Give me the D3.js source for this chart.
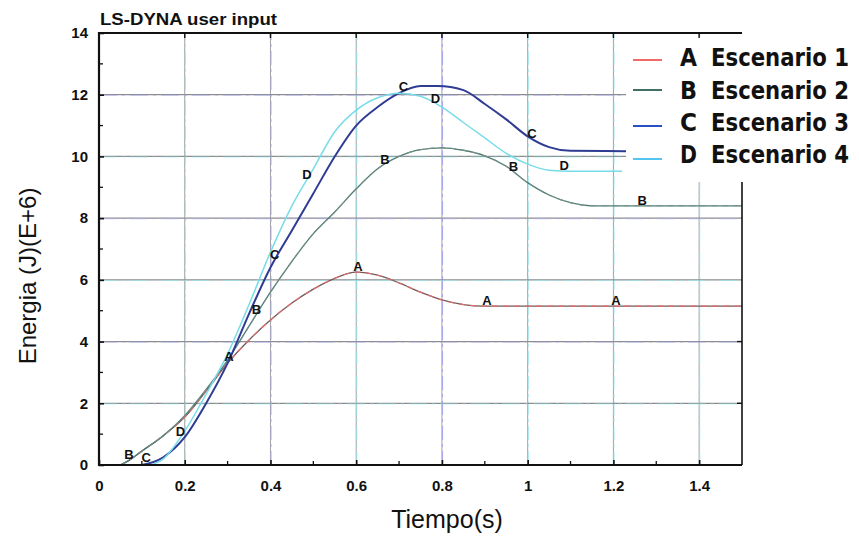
<!DOCTYPE html>
<html>
<head>
<meta charset="utf-8">
<script src="https://cdn.jsdelivr.net/npm/d3@7"></script>
<style>
  html, body { margin: 0; padding: 0; background: #fff; }
  svg { display: block; }
</style>
</head>
<body>
<svg id="chart" width="859" height="536"></svg>
<script>
// Energy vs time for four crash scenarios (LS-DYNA output)
const timeA = [0.05, 0.07, 0.1, 0.15, 0.2, 0.25, 0.3, 0.35, 0.4, 0.45, 0.5, 0.55, 0.6, 0.65, 0.7, 0.75, 0.8, 0.85, 0.9, 1.0, 1.2, 1.5];
const energyA = [0, 0.15, 0.45, 0.95, 1.55, 2.4, 3.3, 4.05, 4.7, 5.25, 5.7, 6.05, 6.25, 6.15, 5.9, 5.6, 5.35, 5.2, 5.15, 5.15, 5.15, 5.15];

const timeB = [0.05, 0.07, 0.1, 0.15, 0.2, 0.25, 0.3, 0.35, 0.4, 0.45, 0.5, 0.55, 0.6, 0.65, 0.7, 0.75, 0.8, 0.85, 0.9, 0.95, 1.0, 1.05, 1.1, 1.15, 1.3, 1.5];
const energyB = [0, 0.15, 0.45, 0.95, 1.6, 2.45, 3.4, 4.5, 5.6, 6.6, 7.5, 8.2, 8.95, 9.6, 10.0, 10.22, 10.28, 10.2, 10.02, 9.68, 9.15, 8.75, 8.5, 8.4, 8.4, 8.4];

const timeC = [0.1, 0.15, 0.2, 0.25, 0.3, 0.35, 0.4, 0.45, 0.5, 0.55, 0.6, 0.65, 0.7, 0.75, 0.79, 0.85, 0.9, 0.95, 1.0, 1.05, 1.1, 1.23];
const energyC = [0, 0.25, 0.9, 2.0, 3.3, 4.9, 6.4, 7.6, 8.8, 10.0, 11.0, 11.6, 12.05, 12.28, 12.28, 12.15, 11.7, 11.2, 10.65, 10.3, 10.18, 10.17];

const timeD = [0.12, 0.15, 0.2, 0.25, 0.3, 0.35, 0.4, 0.45, 0.5, 0.55, 0.6, 0.65, 0.7, 0.75, 0.8, 0.85, 0.9, 0.95, 1.0, 1.05, 1.1, 1.22];
const energyD = [0, 0.2, 1.1, 2.3, 3.6, 5.2, 6.9, 8.4, 9.6, 10.8, 11.5, 11.9, 12.05, 11.95, 11.6, 11.1, 10.6, 10.1, 9.75, 9.55, 9.52, 9.52];

// letter markers placed along each curve
const markTimesA = [0.303, 0.604, 0.905, 1.206];
const markTimesB = [0.07, 0.367, 0.667, 0.967, 1.267];
const markTimesC = [0.11, 0.41, 0.71, 1.01];
const markTimesD = [0.19, 0.485, 0.785, 1.085];

const seriesLetters = ["A", "B", "C", "D"];
const seriesNames = ["Escenario 1", "Escenario 2", "Escenario 3", "Escenario 4"];

const xTicks = [0, 0.2, 0.4, 0.6, 0.8, 1, 1.2, 1.4];
const yTicks = [0, 2, 4, 6, 8, 10, 12, 14];

const series = [
  { t: timeA, e: energyA, marks: markTimesA, color: "#6e5a5a", accent: "#e86a6a", width: 1.3 },
  { t: timeB, e: energyB, marks: markTimesB, color: "#4d7d74", accent: "#7a8f8a", width: 1.3 },
  { t: timeC, e: energyC, marks: markTimesC, color: "#2f3c94", accent: null, width: 2.0 },
  { t: timeD, e: energyD, marks: markTimesD, color: "#78dce8", accent: null, width: 1.5 }
];
const legendColors = ["#f06a6a", "#3f6f66", "#2850c0", "#52c6ee"];

const svg = d3.select("#chart");
const x = d3.scaleLinear().domain([0, 1.5]).range([99, 742]);
const y = d3.scaleLinear().domain([0, 14]).range([465, 33]);

// grid lines: grey base with coloured dash-dot overlay
const grid = svg.append("g");
const vGrid = xTicks.filter(d => d > 0);
const vTint = ["#8ee8f0", "#a8a8f4", "#8ee8f0", "#9a9af2", "#8ee8f0", "#8ee8f0", "#8ee8f0"];
grid.selectAll(".vg").data(vGrid).join("line")
  .attr("x1", d => x(d)).attr("x2", d => x(d))
  .attr("y1", y(0)).attr("y2", y(14))
  .attr("stroke", "#a0a0a0").attr("stroke-width", 1);
grid.selectAll(".vgt").data(vGrid).join("line")
  .attr("x1", d => x(d) + 0.6).attr("x2", d => x(d) + 0.6)
  .attr("y1", y(0)).attr("y2", y(14))
  .attr("stroke", (d, i) => vTint[i]).attr("stroke-width", 1.1)
  .attr("stroke-dasharray", "14,4,3,4").attr("opacity", 0.75);
const hGrid = yTicks.filter(d => d > 0 && d < 14);
const hTint = ["#8ee8f0", "#a8a8f4", "#8ee8f0", "#a8a8f4", "#8ee8f0", "#a8a8f4"];
grid.selectAll(".hg").data(hGrid).join("line")
  .attr("x1", x(0)).attr("x2", x(1.5))
  .attr("y1", d => y(d)).attr("y2", d => y(d))
  .attr("stroke", "#8c8c8c").attr("stroke-width", 1.2);
grid.selectAll(".hgt").data(hGrid).join("line")
  .attr("x1", x(0)).attr("x2", x(1.5))
  .attr("y1", d => y(d) + 0.6).attr("y2", d => y(d) + 0.6)
  .attr("stroke", (d, i) => hTint[i]).attr("stroke-width", 1)
  .attr("stroke-dasharray", "18,5,3,5").attr("opacity", 0.6);

// curves
const line = d3.line().x(d => x(d[0])).y(d => y(d[1])).curve(d3.curveMonotoneX);
const curves = svg.append("g");
series.forEach(s => {
  const pts = s.t.map((t, i) => [t, s.e[i]]);
  curves.append("path").attr("d", line(pts))
    .attr("fill", "none").attr("stroke", s.color).attr("stroke-width", s.width);
  if (s.accent) {
    curves.append("path").attr("d", line(pts))
      .attr("fill", "none").attr("stroke", s.accent).attr("stroke-width", 1.1)
      .attr("stroke-dasharray", "6,5");
  }
});

// value of a curve at time t (linear between samples, for label placement)
function valueAt(s, t) {
  const i = d3.bisectLeft(s.t, t);
  if (i <= 0) return s.e[0];
  if (i >= s.t.length) return s.e[s.t.length - 1];
  const t0 = s.t[i - 1], t1 = s.t[i];
  const k = (t - t0) / (t1 - t0);
  return s.e[i - 1] + k * (s.e[i] - s.e[i - 1]);
}

// white legend panel
svg.append("rect").attr("x", 626).attr("y", 36).attr("width", 233).attr("height", 146).attr("fill", "#fff");

// frame
const frame = svg.append("g").attr("stroke", "#111").attr("fill", "none");
frame.append("line").attr("x1", x(0)).attr("x2", x(0)).attr("y1", y(14) - 1).attr("y2", y(0) + 1).attr("stroke-width", 2.2);
frame.append("line").attr("x1", x(0)).attr("x2", x(1.5)).attr("y1", y(0)).attr("y2", y(0)).attr("stroke-width", 2.2);
frame.append("line").attr("x1", x(0)).attr("x2", x(1.5)).attr("y1", y(14)).attr("y2", y(14)).attr("stroke-width", 2);
frame.append("line").attr("x1", x(1.5)).attr("x2", x(1.5)).attr("y1", 182).attr("y2", y(0)).attr("stroke-width", 1.6);

// axes with inward ticks
const xAxis = d3.axisBottom(x).tickValues(xTicks).tickSize(-5).tickPadding(15)
  .tickFormat(d => d3.format("~g")(d));
const gx = svg.append("g").attr("transform", `translate(0,${y(0)})`).call(xAxis);
const yAxis = d3.axisLeft(y).tickValues(yTicks).tickSize(-5).tickPadding(11);
const gy = svg.append("g").attr("transform", `translate(${x(0)},0)`).call(yAxis);
[gx, gy].forEach(g => {
  g.select(".domain").remove();
  g.selectAll(".tick line").attr("stroke", "#111").attr("stroke-width", 1.6);
  g.selectAll("text").attr("font-family", "Liberation Sans, Arial, sans-serif")
    .attr("font-weight", "bold").attr("font-size", 15).attr("fill", "#111");
});
// minor ticks
const minorX = d3.range(0.1, 1.5, 0.2);
svg.append("g").selectAll("line").data(minorX).join("line")
  .attr("x1", d => x(d)).attr("x2", d => x(d)).attr("y1", y(0)).attr("y2", y(0) - 4)
  .attr("stroke", "#111").attr("stroke-width", 1.3);
const minorY = d3.range(1, 14, 2);
svg.append("g").selectAll("line").data(minorY).join("line")
  .attr("x1", x(0)).attr("x2", x(0) + 4).attr("y1", d => y(d)).attr("y2", d => y(d))
  .attr("stroke", "#111").attr("stroke-width", 1.3);
// right-side ticks
svg.append("g").selectAll("line").data(yTicks.filter(d => d < 6)).join("line")
  .attr("x1", x(1.5)).attr("x2", x(1.5) - 5).attr("y1", d => y(d)).attr("y2", d => y(d))
  .attr("stroke", "#111").attr("stroke-width", 1.4);
// top ticks
svg.append("g").selectAll("line").data(xTicks.filter(d => d > 0)).join("line")
  .attr("x1", d => x(d)).attr("x2", d => x(d)).attr("y1", y(14)).attr("y2", y(14) + 5)
  .attr("stroke", "#111").attr("stroke-width", 1.4);

// letter markers on curves
const labels = svg.append("g").attr("font-family", "Liberation Sans, Arial, sans-serif")
  .attr("font-weight", "bold").attr("font-size", 13).attr("fill", "#111").attr("text-anchor", "middle");
series.forEach((s, si) => {
  s.marks.forEach(t => {
    labels.append("text").attr("x", x(t)).attr("y", y(valueAt(s, t)) - 1).text(seriesLetters[si]);
  });
});

// legend
const legend = svg.append("g");
const rowBase = [66, 99, 131, 163];
const lineY = [60, 90, 126, 159];
const legendFont = "Liberation Sans Narrow, DejaVu Sans Condensed, Arial Narrow, sans-serif";
seriesLetters.forEach((L, i) => {
  legend.append("line").attr("x1", 633).attr("x2", 662)
    .attr("y1", lineY[i]).attr("y2", lineY[i])
    .attr("stroke", legendColors[i]).attr("stroke-width", 2);
  legend.append("text").attr("x", 680).attr("y", rowBase[i])
    .attr("font-family", legendFont).attr("font-weight", "bold")
    .attr("font-size", 25).attr("fill", "#111")
    .attr("textLength", 17).attr("lengthAdjust", "spacingAndGlyphs").text(L);
  legend.append("text").attr("x", 711).attr("y", rowBase[i])
    .attr("font-family", legendFont).attr("font-weight", "bold")
    .attr("font-size", 25).attr("fill", "#111")
    .attr("textLength", 138).attr("lengthAdjust", "spacingAndGlyphs").text(seriesNames[i]);
});

// titles
svg.append("text").attr("x", 100).attr("y", 25)
  .attr("font-family", "Liberation Sans, Arial, sans-serif").attr("font-weight", "bold")
  .attr("font-size", 16).attr("fill", "#111")
  .attr("textLength", 177).attr("lengthAdjust", "spacingAndGlyphs").text("LS-DYNA user input");
svg.append("text").attr("x", 447).attr("y", 528).attr("text-anchor", "middle")
  .attr("font-family", "Liberation Sans, Arial, sans-serif").attr("font-size", 25)
  .attr("fill", "#111").text("Tiempo(s)");
svg.append("text").attr("transform", "translate(36,276) rotate(-90)").attr("text-anchor", "middle")
  .attr("font-family", "Liberation Sans, Arial, sans-serif").attr("font-size", 24)
  .attr("fill", "#111").text("Energia (J)(E+6)");
</script>
</body>
</html>
